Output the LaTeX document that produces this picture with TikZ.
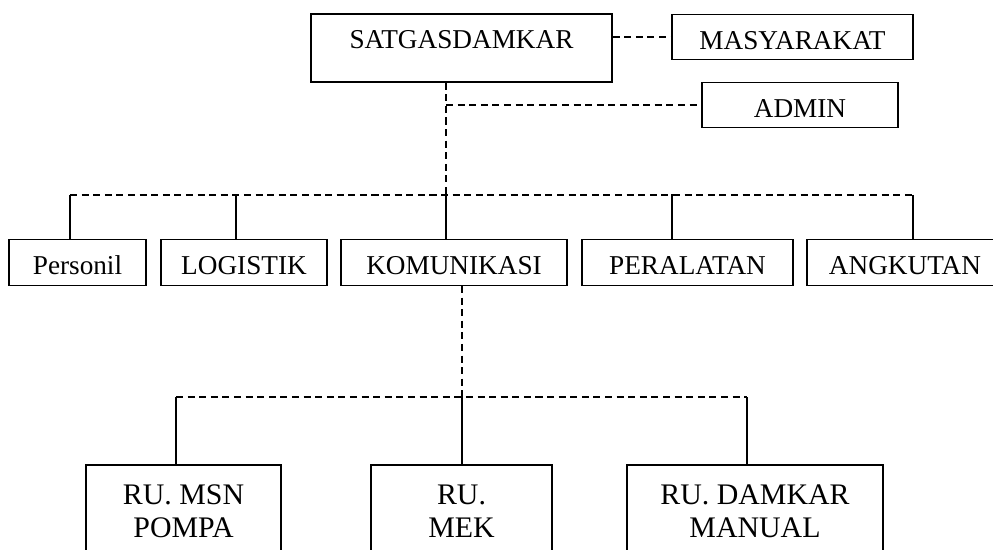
\documentclass[tikz,border=0pt]{standalone}
\usepackage{fontspec}
\setmainfont{Liberation Serif}
\usepackage{tikz}
\tikzset{
  box/.style={draw, line width=0.8pt, inner sep=0pt, font=\fontsize{15.5}{18}\selectfont, text height=0.70cm, text depth=0.21cm},
  headbox/.style={box, text depth=0.66cm},
  unitbox/.style={draw, line width=0.8pt, inner sep=0pt, align=center, font=\fontsize{17}{18.8}\selectfont, text height=1.46cm, text depth=0.74cm},
  link/.style={draw, line width=0.8pt},
  dlink/.style={link, dash pattern=on 4pt off 2.6pt},
}

\begin{document}
\begin{tikzpicture}[x=0.02cm, y=-0.02cm]
  \useasboundingbox (0,0) rectangle (993,550);
  \clip (0,0) rectangle (993,550);

  \node[headbox, minimum width=6.02cm] (satgas) at (461.5,48) {SATGASDAMKAR};
  \node[box, minimum width=4.82cm] (masyarakat) at (792.5,37) {MASYARAKAT};
  \node[box, minimum width=3.92cm] (admin) at (800,105) {ADMIN};

  \node[box, minimum width=2.74cm] (personil) at (77.5,262.5) {Personil};
  \node[box, minimum width=3.32cm] (logistik) at (244,262.5) {LOGISTIK};
  \node[box, minimum width=4.52cm] (komunikasi) at (454,262.5) {KOMUNIKASI};
  \node[box, minimum width=4.22cm] (peralatan) at (687.5,262.5) {PERALATAN};
  \node[box, minimum width=3.92cm] (angkutan) at (905,262.5) {ANGKUTAN};

  \node[unitbox, minimum width=3.90cm] (pompa) at (183.5,520) {RU. MSN\\POMPA};
  \node[unitbox, minimum width=3.62cm] (mek) at (461.5,520) {RU.\\MEK};
  \node[unitbox, minimum width=5.12cm] (manual) at (755,520) {RU. DAMKAR\\MANUAL};

  \coordinate (trunk) at (446,195);
  \coordinate (busL) at (70,195);
  \coordinate (busR) at (913,195);
  \coordinate (sub) at (462,397);
  \coordinate (subL) at (176,397);
  \coordinate (subR) at (747,397);

  \draw[dlink] (masyarakat.west -| satgas.east) -- (masyarakat.west);
  \draw[dlink] (satgas.south -| trunk) -- (trunk);
  \draw[dlink] (admin.west -| trunk) -- (admin.west);
  \draw[dlink] (busL) -- (busR);
  \draw[link] (busL) -- (busL |- personil.north);
  \draw[link] (logistik.north -| 236,0) -- +(0,-45);
  \draw[link] (trunk) -- (trunk |- komunikasi.north);
  \draw[link] (peralatan.north -| 672,0) -- +(0,-45);
  \draw[link] (busR) -- (busR |- angkutan.north);

  \draw[dlink] (komunikasi.south -| sub) -- (sub);
  \draw[dlink] (subL) -- (subR);
  \draw[link] (subL) -- (subL |- pompa.north);
  \draw[link] (sub) -- (sub |- mek.north);
  \draw[link] (subR) -- (subR |- manual.north);
\end{tikzpicture}
\end{document}
